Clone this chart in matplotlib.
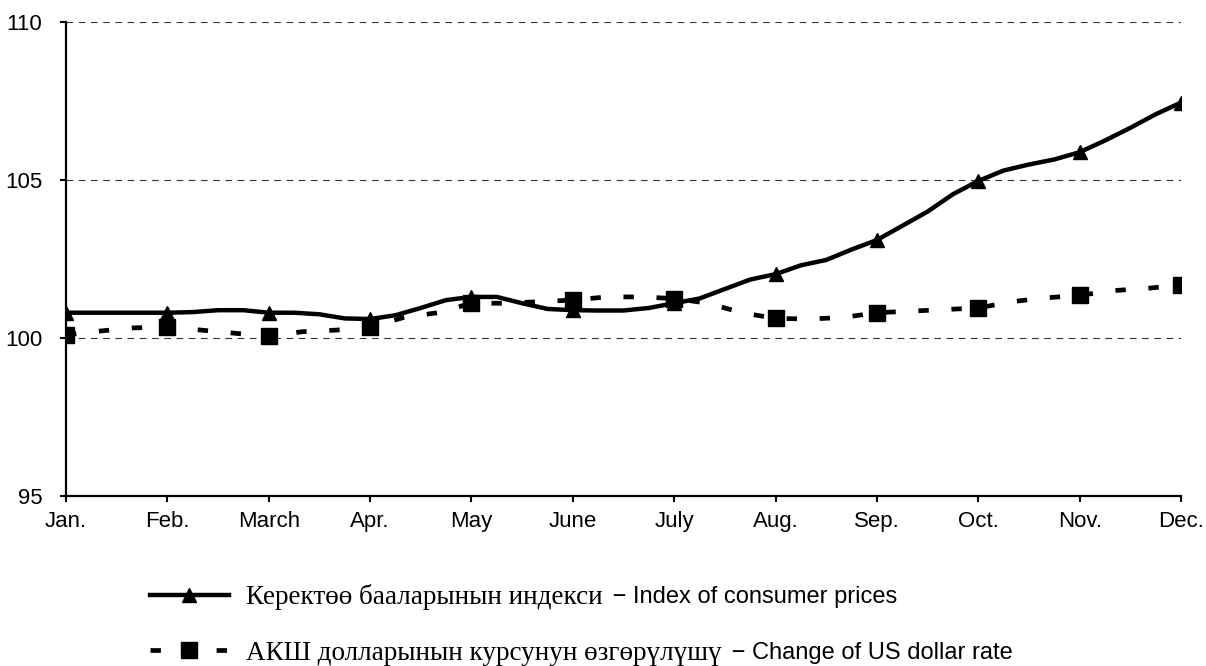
import numpy as np
import matplotlib
matplotlib.use('Agg')
import matplotlib.pyplot as plt
from matplotlib.lines import Line2D

# month labels on the x axis
months = ['Jan.', 'Feb.', 'March', 'Apr.', 'May', 'June', 'July',
          'Aug.', 'Sep.', 'Oct.', 'Nov.', 'Dec.']

# consumer price index, four readings per month (last one = Dec.)
cpi = [100.8, 100.8, 100.8, 100.8,
       100.8, 100.82, 100.88, 100.88,
       100.8, 100.8, 100.75, 100.62,
       100.6, 100.72, 100.95, 101.2,
       101.3, 101.3, 101.1, 100.92,
       100.88, 100.87, 100.87, 100.95,
       101.1, 101.25, 101.55, 101.85,
       102.02, 102.3, 102.47, 102.8,
       103.1, 103.55, 104.0, 104.55,
       104.97, 105.3, 105.49, 105.65,
       105.88, 106.25, 106.65, 107.08,
       107.45]

# change of US dollar rate, three readings per month
usd = [100.1, 100.22, 100.32,
       100.35, 100.25, 100.15,
       100.05, 100.2, 100.25,
       100.35, 100.65, 100.8,
       101.1, 101.1, 101.15,
       101.2, 101.3, 101.3,
       101.25, 101.1, 100.8,
       100.62, 100.6, 100.65,
       100.8, 100.85, 100.9,
       100.95, 101.15, 101.27,
       101.35, 101.5, 101.57,
       101.68]

label_cpi = 'Керектөө бааларынын индекси'
label_usd = 'АКШ долларынын курсунун өзгөрүлүшү'
eng_cpi = ' − Index of consumer prices'
eng_usd = ' − Change of US dollar rate'

sans = ['Liberation Sans', 'DejaVu Sans']
serif = ['Liberation Serif', 'DejaVu Serif']
plt.rcParams['font.family'] = sans

x_cpi = np.arange(len(cpi)) / 4
x_usd = np.arange(len(usd)) / 3

fig = plt.figure(figsize=(12.06, 6.66), dpi=100)
ax = fig.add_axes([66 / 1206, 1 - 496 / 666, 1115 / 1206, 474 / 666])

ax.plot(x_cpi, cpi, color='black', lw=3.2, marker='^', markersize=10,
        markevery=4, solid_joinstyle='round', zorder=3)
ax.plot(x_usd, usd, color='black', lw=3.4, linestyle=(0, (2.2, 4.8)),
        dash_capstyle='butt', marker='s', markersize=12, markevery=3, zorder=4)

ax.set_xlim(0, 11)
ax.set_ylim(95, 110)
ax.set_xticks(range(12))
ax.set_xticklabels(months)
ax.set_yticks([95, 100, 105, 110])
ax.tick_params(labelsize=16, length=4, width=1.5, pad=7, colors='black')
ax.tick_params(axis='y', pad=13)
for s in ['top', 'right']:
    ax.spines[s].set_visible(False)
for s in ['left', 'bottom']:
    ax.spines[s].set_linewidth(1.6)
ax.yaxis.grid(True, linestyle=(0, (6, 5)), color='#333333', lw=0.8)
ax.set_axisbelow(True)

# legend below the plot
h_cpi = Line2D([], [], color='black', lw=3.2, marker='^', markersize=10)
h_usd = Line2D([], [], color='black', lw=3.4, linestyle=(0, (2.2, 4.8)),
               marker='s', markersize=12)
leg = fig.legend([h_cpi, h_usd], [label_cpi, label_usd],
                 loc='upper left', bbox_to_anchor=(150 / 1206, 1 - 584 / 666),
                 frameon=False, handlelength=2.9, handletextpad=0.63,
                 labelspacing=1.14, borderpad=0, borderaxespad=0,
                 prop={'family': serif, 'size': 19.5})

for t, eng in zip(leg.get_texts(), [eng_cpi, eng_usd]):
    fig.add_artist(plt.Annotation(eng, xy=(1, 0), xycoords=t,
                                  xytext=(3, 1.2), textcoords='offset points',
                                  va='bottom', ha='left', fontsize=17,
                                  family=sans, zorder=6))

fig.canvas.draw()
fig.savefig('out.png', dpi=100)
